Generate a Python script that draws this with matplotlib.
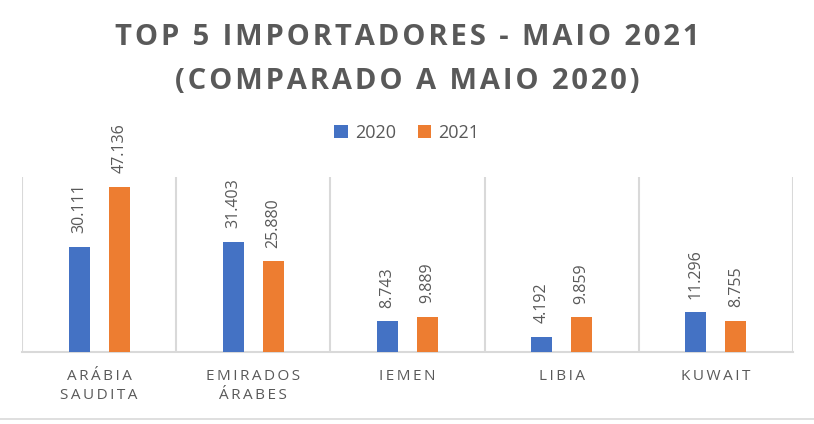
import numpy as np
import matplotlib
matplotlib.use('Agg')
import matplotlib.pyplot as plt
from matplotlib.lines import Line2D

# data (Excel pt-BR thousands separator)
paises = ['ARÁBIA\nSAUDITA', 'EMIRADOS\nÁRABES', 'IEMEN', 'LIBIA', 'KUWAIT']
v2020 = [30111, 31403, 8743, 4192, 11296]
v2021 = [47136, 25880, 9889, 9859, 8755]
anos = ['2020', '2021']

azul = '#4472C4'
laranja = '#ED7D31'
cinza = '#595959'
linha = '#D9D9D9'

plt.rcParams['font.family'] = ['Open Sans', 'DejaVu Sans']


def espacado(s, sep='\u200a'):
    # letter spacing imitation
    return '\n'.join(sep.join(list(l)) for l in s.split('\n'))


def fmt(v):
    return f'{v:,}'.replace(',', '.')


fig = plt.figure(figsize=(8.14, 4.24), dpi=100)
ax = fig.add_axes([22/814, 1 - 352/424, (793 - 22)/814, (352 - 177)/424])

x = np.arange(len(paises))
w = 0.136
off = 0.13
b1 = ax.bar(x - off, v2020, w, color=azul, label=anos[0], zorder=3)
b2 = ax.bar(x + off, v2021, w, color=laranja, label=anos[1], zorder=3)

for bars, vals in ((b1, v2020), (b2, v2021)):
    for r, v in zip(bars, vals):
        ax.annotate(fmt(v), (r.get_x() + r.get_width()/2, r.get_height()),
                    xytext=(0, 10), textcoords='offset points',
                    rotation=90, ha='center', va='bottom',
                    fontsize=11.5, color=cinza)

ax.set_xlim(-0.5, len(paises) - 0.5)
ax.set_ylim(0, 50000)
ax.vlines(np.arange(len(paises) + 1) - 0.5, 0, 50000, color=linha, lw=1.5, zorder=1)

for s in ['top', 'right', 'left']:
    ax.spines[s].set_visible(False)
ax.spines['bottom'].set_color(linha)
ax.spines['bottom'].set_linewidth(1.5)
ax.set_yticks([])
ax.set_xticks(x)
ax.set_xticklabels([espacado(p, '\u2009') for p in paises], fontsize=11, color=cinza, linespacing=1.35)
ax.tick_params(axis='x', length=0, pad=12)

fig.text(0.5, 1 - 45/424, espacado('TOP 5 IMPORTADORES - MAIO 2021'),
         ha='center', va='baseline', fontsize=21, fontweight='bold', color=cinza)
fig.text(0.5, 1 - 89/424, espacado('(COMPARADO A MAIO 2020)'),
         ha='center', va='baseline', fontsize=21, fontweight='bold', color=cinza)

fig.legend(loc='center', bbox_to_anchor=(0.5, 1 - 133/424), ncol=2, frameon=False,
           fontsize=13, labelcolor=cinza, handlelength=0.75, handleheight=0.75,
           handletextpad=0.4, columnspacing=1.2)

fig.add_artist(Line2D([0, 1], [1 - 419/424] * 2, color=linha, lw=1.2))

fig.savefig('out.png', dpi=100)
